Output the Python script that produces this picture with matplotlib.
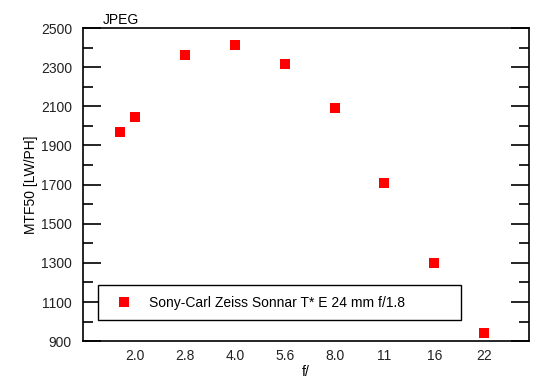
import numpy as np
import matplotlib
matplotlib.use('Agg')
import matplotlib.pyplot as plt
from matplotlib.ticker import FixedLocator, NullFormatter

# f-stops (actual values) and the nominal labels shown on the axis
f_stops = [1.8, 2.0, 2.83, 4.0, 5.66, 8.0, 11.3, 16.0, 22.6]
mtf50 = [1967, 2044, 2360, 2412, 2314, 2089, 1706, 1297, 944]
tick_pos = [2.0, 2.83, 4.0, 5.66, 8.0, 11.3, 16.0, 22.6]
tick_labels = ['2.0', '2.8', '4.0', '5.6', '8.0', '11', '16', '22']
lens_name = 'Sony-Carl Zeiss Sonnar T* E 24 mm f/1.8'

plt.rcParams['font.family'] = ['Liberation Sans', 'DejaVu Sans']
plt.rcParams['font.size'] = 10

fig = plt.figure(figsize=(5.5, 3.89), dpi=100)
fig.subplots_adjust(left=0.151, right=0.962, top=0.928, bottom=0.123)
ax = fig.add_subplot(111)

ax.plot(f_stops, mtf50, linestyle='none', marker='s', markersize=7.2,
        color='#ff0000', markeredgewidth=0, label=lens_name)

ax.set_xscale('log', base=2)
ax.set_xlim(1.393, 30.9)
ax.xaxis.set_major_locator(FixedLocator(tick_pos))
ax.set_xticklabels(tick_labels)
ax.xaxis.set_minor_formatter(NullFormatter())
ax.xaxis.set_minor_locator(FixedLocator([]))
ax.tick_params(axis='x', length=0, pad=6, colors='#222222')

ax.set_ylim(900, 2500)
ax.set_yticks(np.arange(900, 2501, 200))
ax.set_yticks(np.arange(1000, 2500, 200), minor=True)
ax.tick_params(axis='y', which='major', direction='in', length=13, width=1.2,
               left=True, right=True, pad=8)
ax.tick_params(axis='y', which='minor', direction='in', length=7, width=1.2,
               left=True, right=True)
ax.tick_params(axis='y', labelcolor='#222222')

for s in ax.spines.values():
    s.set_linewidth(1.2)

ax.set_xlabel('f/', labelpad=1)
ax.set_ylabel('MTF50 [LW/PH]', labelpad=2)
ax.set_title('JPEG', loc='left', x=0.045, pad=3, fontsize=10)

leg = ax.legend(loc='lower left', bbox_to_anchor=(0.034, 0.067, 0.814, 0.11),
                mode='expand', fancybox=False, framealpha=1, edgecolor='black',
                borderpad=0.75, handletextpad=0.72, handlelength=2.2, borderaxespad=0)
leg.get_frame().set_linewidth(1.0)

fig.savefig('out.png', dpi=100)
